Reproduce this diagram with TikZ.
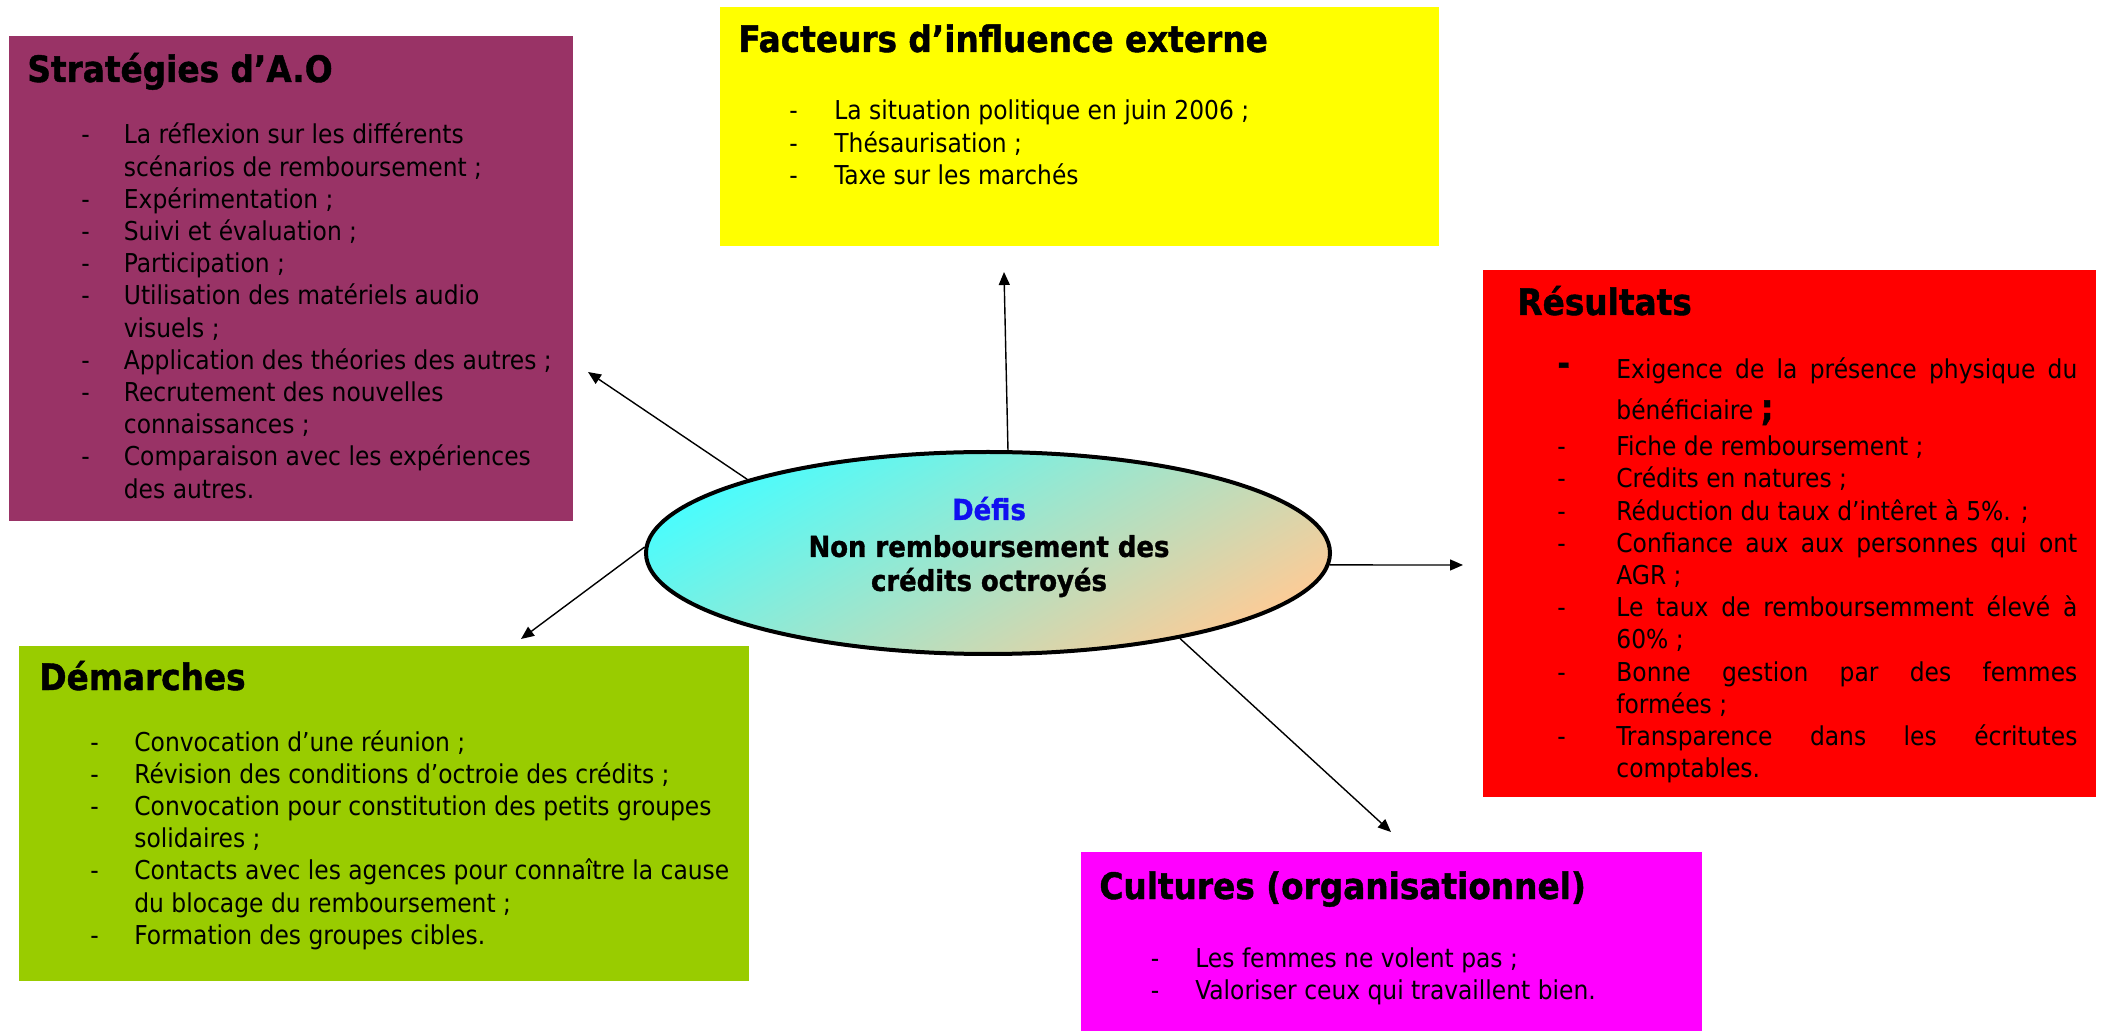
\documentclass[tikz,border=0pt]{standalone}
\usepackage{fontspec}
\setmainfont{DejaVu Sans Condensed}[BoldFeatures={FakeBold=1.2}]
\usetikzlibrary{arrows.meta,shapes.geometric}
\definecolor{plum}{HTML}{993366}
\definecolor{lemon}{HTML}{FFFF00}
\definecolor{scarlet}{HTML}{FF0000}
\definecolor{lime}{HTML}{99CC00}
\definecolor{fuchsia}{HTML}{FF00FF}
\definecolor{aqua}{HTML}{4CFCFC}
\definecolor{peach}{HTML}{FACC98}
\definecolor{defiblue}{HTML}{1010F0}
\begin{document}
\begin{tikzpicture}[x=0.5pt,y=-0.5pt,
  box/.style={anchor=north west, inner sep=0pt, outer sep=0pt, draw=none},
  title/.style={anchor=base west, inner sep=0pt, font=\fontsize{18.2}{21}\selectfont\bfseries},
  body/.style={anchor=base west, inner sep=0pt, font=\fontsize{13}{16}\selectfont},
  link/.style={-{Triangle[length=6.5pt,width=5.5pt]}, line width=0.7pt}]

\useasboundingbox (0,0) rectangle (2105,1031);

% coloured panels
\node[box, fill=plum,    minimum width=282pt,   minimum height=242.5pt] (strat) at (9,36) {};
\node[box, fill=lemon,   minimum width=359.5pt, minimum height=119.5pt] (fact)  at (720,7) {};
\node[box, fill=scarlet, minimum width=306.5pt, minimum height=263.5pt] (res)   at (1483,270) {};
\node[box, fill=lime,    minimum width=365pt,   minimum height=167.5pt] (dem)   at (19,646) {};
\node[box, fill=fuchsia, minimum width=310.5pt, minimum height=89.5pt]  (cult)  at (1081,852) {};

% panel titles
\node[title] (stratT) at (27,82)    {Stratégies d’A.O};
\node[title] (factT)  at (738,52)   {Facteurs d’influence externe};
\node[title] (resT)   at (1517,315) {Résultats};
\node[title] (demT)   at (39,690)   {Démarches};
\node[title] (cultT)  at (1099,899) {Cultures (organisationnel)};

% Stratégies d'A.O
\foreach \d/\t [count=\i] in {
  1/{La réflexion sur les différents},
  0/{scénarios de remboursement ;},
  1/{Expérimentation ;},
  1/{Suivi et évaluation ;},
  1/{Participation ;},
  1/{Utilisation des matériels audio},
  0/{visuels ;},
  1/{Application des théories des autres ;},
  1/{Recrutement des nouvelles},
  0/{connaissances ;},
  1/{Comparaison avec les expériences},
  0/{des autres.}} {
  \node[body] (s\i) at (123.5,{144+32.2*(\i-1)}) {\t};
  \ifnum\d=1 \node[body] (sd\i) at (81,{144+32.2*(\i-1)}) {-};\fi
}

% Facteurs d'influence externe
\foreach \t [count=\i] in {
  {La situation politique en juin 2006 ;},
  {Thésaurisation ;},
  {Taxe sur les marchés}} {
  \node[body] (f\i) at (834,{120+32.2*(\i-1)}) {\t};
  \node[body] (fd\i) at (789,{120+32.2*(\i-1)}) {-};
}

% Démarches
\foreach \d/\t [count=\i] in {
  1/{Convocation d’une réunion ;},
  1/{Révision des conditions d’octroie des crédits ;},
  1/{Convocation pour constitution des petits groupes},
  0/{solidaires ;},
  1/{Contacts avec les agences pour connaître la cause},
  0/{du blocage du remboursement ;},
  1/{Formation des groupes cibles.}} {
  \node[body] (d\i) at (134,{751+32.2*(\i-1)}) {\t};
  \ifnum\d=1 \node[body] (dd\i) at (90,{751+32.2*(\i-1)}) {-};\fi
}

% Cultures (organisationnel)
\foreach \t [count=\i] in {
  {Les femmes ne volent pas ;},
  {Valoriser ceux qui travaillent bien.}} {
  \node[body] (c\i) at (1195,{967+32.2*(\i-1)}) {\t};
  \node[body] (cd\i) at (1150.5,{967+32.2*(\i-1)}) {-};
}

% Résultats (justified column)
\node[body, font=\fontsize{17}{20}\selectfont\bfseries] (rd1) at (1557,375) {-};
\node[body] (r1) at (1616,379) {\makebox[230.5pt][s]{Exigence de la présence physique du}};
\node[body] (r2) at (1616,420) {bénéficiaire {\fontsize{18}{20}\selectfont\bfseries ;}};
\foreach \d/\j/\t [count=\i from 3] in {
  1/0/{Fiche de remboursement ;},
  1/0/{Crédits en natures ;},
  1/0/{Réduction du taux d’intêret à 5\%. ;},
  1/1/{Confiance aux aux personnes qui ont},
  0/0/{AGR ;},
  1/1/{Le taux de remboursemment élevé à},
  0/0/{60\% ;},
  1/1/{Bonne gestion par des femmes},
  0/0/{formées ;},
  1/1/{Transparence dans les écritutes},
  0/0/{comptables.}} {
  \ifnum\j=1
    \node[body] (r\i) at (1616,{455.7+32.2*(\i-3)}) {\makebox[230.5pt][s]{\t}};
  \else
    \node[body] (r\i) at (1616,{455.7+32.2*(\i-3)}) {\t};
  \fi
  \ifnum\d=1 \node[body] (rd\i) at (1557,{455.7+32.2*(\i-3)}) {-};\fi
}

% central challenge
\node[ellipse, draw=black, line width=2pt, minimum width=342pt, minimum height=101pt,
      top color=aqua, bottom color=peach, shading angle=30, inner sep=0pt] (defi) at (988,553) {};
\node[align=center, inner sep=0pt, font=\fontsize{14.4}{17}\selectfont\bfseries] (defiT) at (989,547)
  {\textcolor{defiblue}{Défis}\\[1.5pt]Non remboursement des\\crédits octroyés};

% connectors
\coordinate (tF) at (1004,272);
\coordinate (tS) at (588,372);
\coordinate (tD) at (521,639);
\coordinate (tR) at (1463,565);
\coordinate (tC) at (1391,832);
\draw[link] (defi.79)  -- (tF);
\draw[link] (defi.163) -- (tS);
\draw[link] (defi.179) -- (tD);
\draw[link] (defi.-2)  -- (tR);
\draw[link] (defi.-24) -- (tC);
\end{tikzpicture}
\end{document}
